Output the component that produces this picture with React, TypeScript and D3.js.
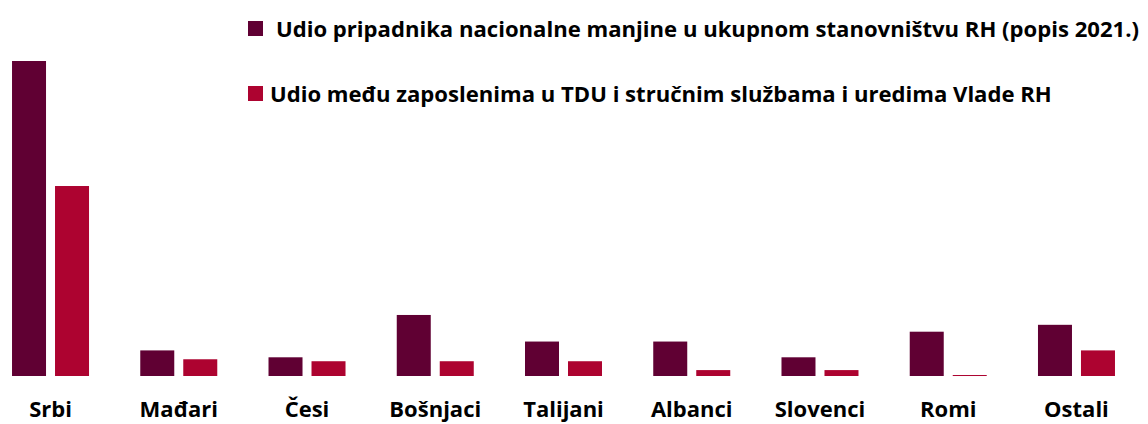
import React from "react";
import * as d3 from "d3";

const categories = ["Srbi", "Mađari", "Česi", "Bošnjaci", "Talijani", "Albanci", "Slovenci", "Romi", "Ostali"];
const seriesNames = [
  "Udio pripadnika nacionalne manjine u ukupnom stanovništvu RH (popis 2021.)",
  "Udio među zaposlenima u TDU i stručnim službama i uredima Vlade RH",
];
const populationShare = [3.2, 0.26, 0.19, 0.62, 0.35, 0.35, 0.19, 0.45, 0.52];
const employeeShare = [1.93, 0.17, 0.15, 0.15, 0.15, 0.06, 0.06, 0.01, 0.26];
const colors = ["#600033", "#AD0330"];

const W = 1148;
const H = 424;
const FONT = "'Open Sans', sans-serif";

export default function App() {
  const x0 = d3.scaleBand<string>().domain(categories).range([-13.6, 1140.6]).paddingInner(0).paddingOuter(0);
  const groupW = 77;
  const x1 = d3.scaleBand<number>().domain([0, 1]).range([0, groupW]).paddingInner(0.2093).paddingOuter(0);
  const y = d3.scaleLinear().domain([0, 3.2]).range([376, 61]);
  const series = [populationShare, employeeShare];

  return (
    <svg width={W} height={H} style={{ position: "absolute", left: 0, top: 0, background: "#fff" }}>
      {categories.map((c, i) => {
        const cx = (x0(c) as number) + x0.bandwidth() / 2;
        const gx = cx - groupW / 2;
        return (
          <g key={c}>
            {series.map((s, si) => {
              const v = s[i];
              const top = y(v);
              return (
                <rect
                  key={si}
                  x={gx + (x1(si) as number)}
                  y={top}
                  width={x1.bandwidth()}
                  height={Math.max(y(0) - top, 1)}
                  fill={colors[si]}
                />
              );
            })}
            <text
              x={cx}
              y={416.5}
              textAnchor="middle"
              fontFamily={FONT}
              fontWeight={700}
              fontSize={22}
              fill="#000"
            >
              {c}
            </text>
          </g>
        );
      })}
      {seriesNames.map((n, i) => {
        const ly = i === 0 ? 21 : 86;
        return (
          <g key={n}>
            <rect x={248} y={ly} width={15} height={15} fill={colors[i]} />
            <text
              x={i === 0 ? 276 : 270}
              y={ly + 15.5}
              fontFamily={FONT}
              fontWeight={700}
              fontSize={22.1}
              fill="#000"
            >
              {n}
            </text>
          </g>
        );
      })}
    </svg>
  );
}
